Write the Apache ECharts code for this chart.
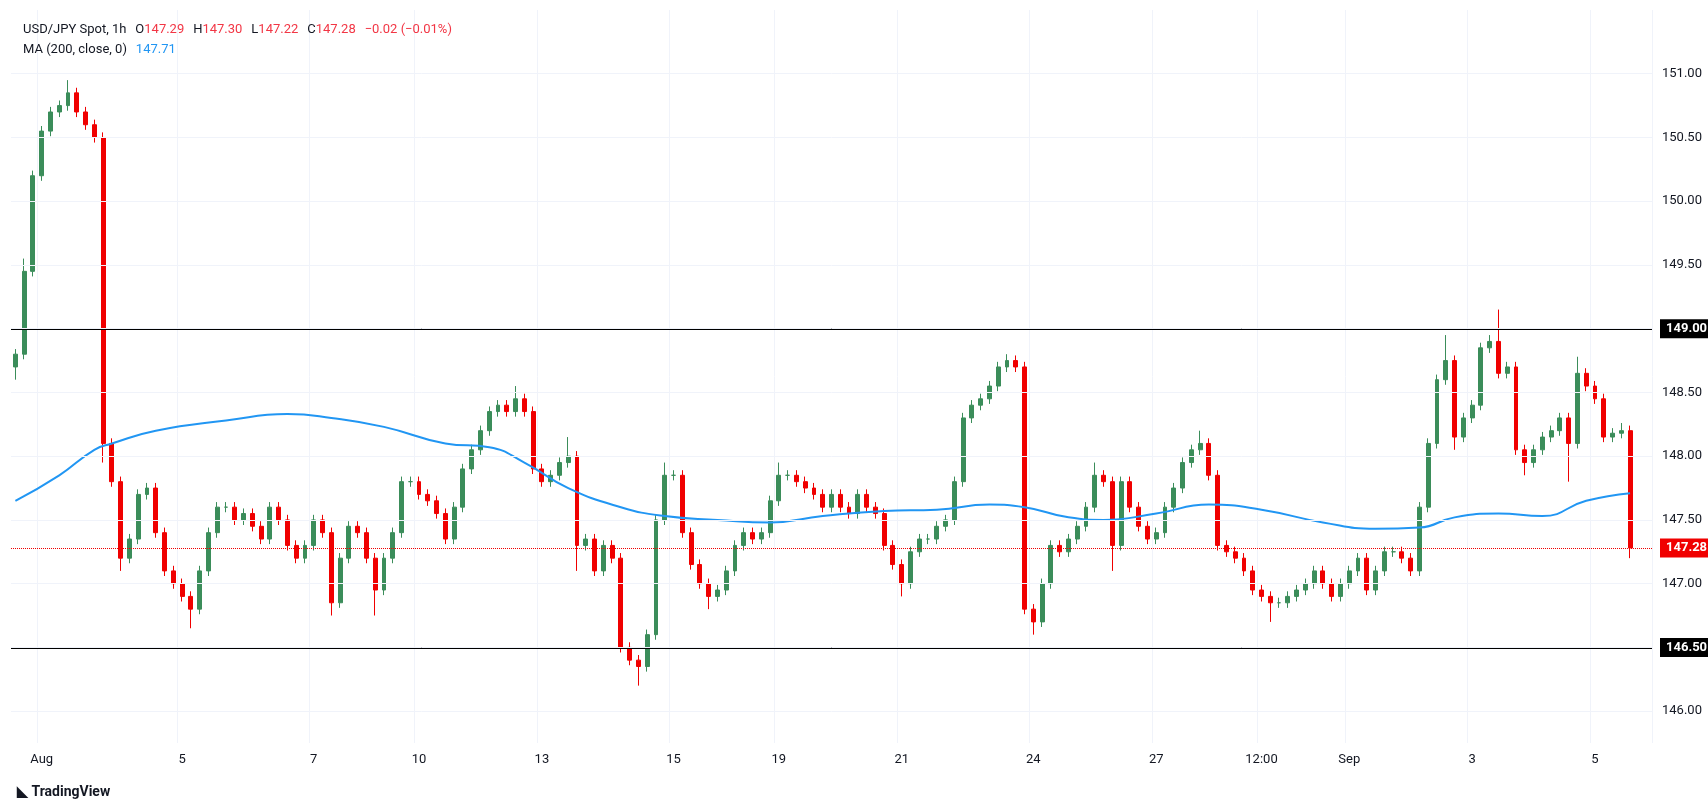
<!DOCTYPE html>
<html>
<head>
<meta charset="utf-8">
<script src="https://cdn.jsdelivr.net/npm/echarts@6/dist/echarts.min.js"></script>
<style>
  html, body { margin: 0; padding: 0; background: #fff; }
  #chart { width: 1708px; height: 803px; }
</style>
</head>
<body>
<div id="chart"></div>
<script>
// closes per candle (open = previous close)
var closes = [
  148.80, 149.45, 150.20, 150.55, 150.70, 150.75, 150.85, 150.70, 150.60, 150.50,
  148.10, 147.80, 147.20, 147.35, 147.70, 147.75, 147.40, 147.10, 147.00, 146.90,
  146.80, 147.10, 147.40, 147.60, 147.60, 147.50, 147.55, 147.45, 147.35, 147.60,
  147.50, 147.30, 147.20, 147.30, 147.50, 147.40, 146.85, 147.20, 147.45, 147.40,
  147.20, 146.95, 147.20, 147.40, 147.80, 147.80, 147.70, 147.65, 147.55, 147.35,
  147.60, 147.90, 148.05, 148.20, 148.35, 148.40, 148.35, 148.45, 148.35, 147.90,
  147.80, 147.85, 147.95, 148.00, 147.30, 147.35, 147.10, 147.30, 147.20, 146.50,
  146.40, 146.35, 146.60, 147.50, 147.85, 147.85, 147.40, 147.15, 147.00, 146.90,
  146.95, 147.10, 147.30, 147.40, 147.35, 147.40, 147.65, 147.85, 147.85, 147.80,
  147.75, 147.70, 147.60, 147.70, 147.60, 147.55, 147.70, 147.60, 147.55, 147.30,
  147.15, 147.00, 147.25, 147.35, 147.35, 147.45, 147.50, 147.80, 148.30, 148.40,
  148.45, 148.55, 148.70, 148.75, 148.70, 146.80, 146.70, 147.00, 147.30, 147.25,
  147.35, 147.45, 147.60, 147.85, 147.80, 147.30, 147.80, 147.60, 147.45, 147.35,
  147.40, 147.60, 147.75, 147.95, 148.05, 148.10, 147.85, 147.30, 147.25, 147.20,
  147.10, 146.95, 146.90, 146.85, 146.85, 146.90, 146.95, 147.00, 147.10, 147.00,
  146.90, 147.00, 147.10, 147.20, 146.95, 147.10, 147.25, 147.25, 147.20, 147.10,
  147.60, 148.10, 148.60, 148.75, 148.15, 148.30, 148.40, 148.85, 148.90, 148.65,
  148.70, 148.05, 147.95, 148.05, 148.15, 148.20, 148.30, 148.10, 148.65, 148.55,
  148.45, 148.15, 148.18, 148.20, 147.28
];
var firstOpen = 148.70;

// notable wicks (index: value)
var highWicks = { 6: 150.95, 1: 149.55, 57: 148.55, 63: 148.15, 74: 147.95, 87: 147.95, 113: 148.80,
  123: 147.95, 135: 148.20, 163: 148.95, 168: 148.95, 169: 149.15, 178: 148.78, 183: 148.26 };
var lowWicks = { 0: 148.60, 10: 147.95, 12: 147.10, 20: 146.65, 36: 146.75, 41: 146.75, 64: 147.10,
  71: 146.20, 79: 146.80, 101: 146.90, 116: 146.60, 125: 147.10, 143: 146.70, 164: 148.05,
  172: 147.85, 177: 147.80, 184: 147.20 };

// 200 MA, read at these candle indices
var maIndex = [0, 5, 9, 11, 16, 24, 31, 36, 42, 49, 54, 58, 63, 69, 74, 80, 86, 92, 99, 105,
  111, 115, 120, 124, 130, 136, 142, 149, 155, 160, 164, 169, 174, 179, 184];
var maValues = [147.65, 147.85, 148.05, 148.10, 148.20, 148.28, 148.33, 148.30, 148.23, 148.10,
  148.07, 147.95, 147.75, 147.60, 147.53, 147.50, 147.48, 147.53, 147.57, 147.58,
  147.62, 147.60, 147.52, 147.50, 147.55, 147.62, 147.58, 147.48, 147.43, 147.44,
  147.52, 147.55, 147.53, 147.65, 147.71];

// x axis tick labels (candle index: label)
var tickLabels = { 3: 'Aug', 19: '5', 34: '7', 46: '10', 60: '13', 75: '15', 87: '19', 101: '21',
  116: '24', 130: '27', 142: '12:00', 152: 'Sep', 166: '3', 180: '5' };

var levels = [149.00, 146.50];
var lastPrice = 147.28;
var maLast = 147.71;

var upColor = '#3b8d5a';
var downColor = '#f00000';

var categories = [];
var candles = [];
var ma = [];
for (var i = 0; i < closes.length + 2; i++) {
    categories.push(tickLabels[i] || '');
    ma.push(null);
}
for (var i = 0; i < closes.length; i++) {
    var o = i === 0 ? firstOpen : closes[i - 1];
    var c = closes[i];
    var h = highWicks[i] !== undefined ? highWicks[i] : Math.max(o, c) + 0.04;
    var l = lowWicks[i] !== undefined ? lowWicks[i] : Math.min(o, c) - 0.04;
    candles.push([o, c, l, h]);
}
for (var j = 0; j < maIndex.length; j++) ma[maIndex[j]] = maValues[j];

var gridLevels = [];
for (var v = 146; v <= 151; v += 0.5) gridLevels.push({ yAxis: v });

var showTick = function (idx) { return !!tickLabels[idx]; };

var chart = echarts.init(document.getElementById('chart'));
chart.setOption({
    animation: false,
    textStyle: { fontFamily: 'Roboto, Arial, sans-serif' },
    title: [{
        left: 18, top: 16,
        text: '{n|USD/JPY Spot, 1h}  {k|O}{r|147.29}  {k|H}{r|147.30}  {k|L}{r|147.22}  {k|C}{r|147.28}  {r|\u22120.02 (\u22120.01%)}',
        textStyle: {
            rich: {
                n: { fontSize: 13, color: '#131722', fontWeight: 'normal' },
                k: { fontSize: 13, color: '#131722', fontWeight: 'normal' },
                r: { fontSize: 13, color: '#f23645', fontWeight: 'normal' }
            }
        }
    }, {
        left: 18, top: 36,
        text: '{n|MA (200, close, 0)}  {b|147.71}',
        textStyle: {
            rich: {
                n: { fontSize: 13, color: '#131722', fontWeight: 'normal' },
                b: { fontSize: 13, color: '#2196f3', fontWeight: 'normal' }
            }
        }
    }, {
        left: 12, top: 780,
        text: '\u25e3 TradingView',
        textStyle: { fontSize: 14, fontWeight: 'bold', color: '#131722' }
    }],
    grid: { left: 11, right: 56, top: 10, bottom: 60, containLabel: false },
    xAxis: {
        type: 'category',
        data: categories,
        boundaryGap: true,
        axisLine: { show: false },
        axisTick: { show: false },
        axisLabel: { interval: showTick, color: '#131722', fontSize: 13, margin: 10 },
        splitLine: { show: true, interval: showTick, lineStyle: { color: '#f0f3fa' } }
    },
    yAxis: {
        type: 'value',
        position: 'right',
        min: 145.75,
        max: 151.5,
        interval: 0.25,
        axisLine: { show: false },
        axisTick: { show: false },
        splitLine: { show: false },
        axisLabel: {
            color: '#131722', fontSize: 13, margin: 10,
            formatter: function (v) {
                return Math.abs(v * 2 - Math.round(v * 2)) < 1e-6 && v >= 146 && v <= 151 ? v.toFixed(2) : '';
            }
        }
    },
    series: [{
        type: 'candlestick',
        data: candles,
        barWidth: '50%',
        itemStyle: { color: upColor, color0: downColor, borderColor: upColor, borderColor0: downColor },
        markLine: {
            silent: true,
            symbol: 'none',
            data: [
                { yAxis: levels[0], lineStyle: { color: '#000', width: 2, type: 'solid' },
                  label: { backgroundColor: '#000' } },
                { yAxis: levels[1], lineStyle: { color: '#000', width: 2, type: 'solid' },
                  label: { backgroundColor: '#000' } },
                { yAxis: lastPrice, lineStyle: { color: downColor, width: 1, type: 'dotted' },
                  label: { backgroundColor: downColor } }
            ],
            label: {
                position: 'end', distance: 8, color: '#fff', fontSize: 13, fontWeight: 'bold',
                padding: [3, 6], formatter: function (p) { return p.value.toFixed(2); }
            }
        }
    }, {
        type: 'line',
        data: ma,
        connectNulls: true,
        smooth: true,
        showSymbol: false,
        lineStyle: { color: '#2196f3', width: 2 },
        markLine: {
            silent: true,
            symbol: 'none',
            data: [{ yAxis: maLast }],
            lineStyle: { opacity: 0 },
            label: {
                position: 'end', distance: 8, color: '#fff', fontSize: 13, fontWeight: 'bold',
                backgroundColor: '#2196f3', padding: [3, 6], formatter: function (p) { return p.value.toFixed(2); }
            }
        }
    }, {
        type: 'line',
        data: [],
        z: 0,
        markLine: {
            silent: true,
            symbol: 'none',
            label: { show: false },
            lineStyle: { color: '#f0f3fa', width: 1, type: 'solid' },
            data: gridLevels
        }
    }]
});
</script>
</body>
</html>
